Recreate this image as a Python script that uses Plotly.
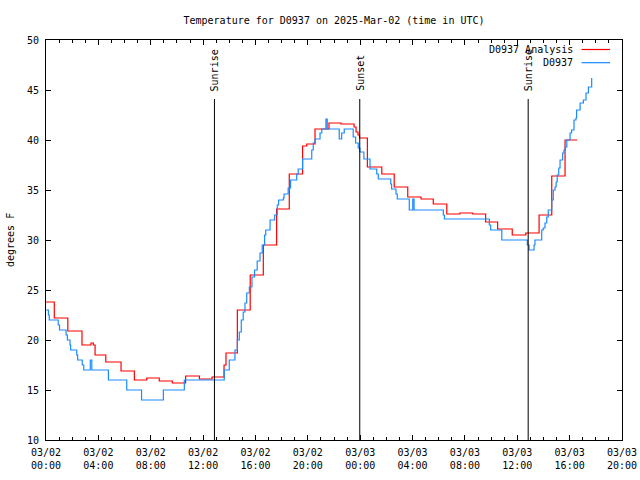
import plotly.graph_objects as go

# ---------------- data ----------------
analysis_times = [
    "2025-03-02 00:00", "2025-03-02 00:38", "2025-03-02 01:40", "2025-03-02 02:45",
    "2025-03-02 03:26", "2025-03-02 03:37", "2025-03-02 03:45", "2025-03-02 04:34",
    "2025-03-02 05:44", "2025-03-02 06:45", "2025-03-02 07:42", "2025-03-02 08:39",
    "2025-03-02 09:39", "2025-03-02 10:40", "2025-03-02 11:43", "2025-03-02 12:41",
    "2025-03-02 13:36", "2025-03-02 13:45", "2025-03-02 14:37", "2025-03-02 15:36",
    "2025-03-02 16:36", "2025-03-02 17:37", "2025-03-02 18:35", "2025-03-02 19:36",
    "2025-03-02 19:55", "2025-03-02 20:33", "2025-03-02 21:37", "2025-03-02 22:32",
    "2025-03-02 23:32", "2025-03-02 23:41", "2025-03-02 23:50", "2025-03-02 23:57",
    "2025-03-03 00:33", "2025-03-03 01:39", "2025-03-03 02:36", "2025-03-03 03:38",
    "2025-03-03 04:39", "2025-03-03 05:35", "2025-03-03 06:37", "2025-03-03 07:37",
    "2025-03-03 08:36", "2025-03-03 09:35", "2025-03-03 10:30", "2025-03-03 11:37",
    "2025-03-03 12:39", "2025-03-03 13:40", "2025-03-03 14:38", "2025-03-03 15:39",
    "2025-03-03 16:35",
]
analysis_temps = [
    23.8, 22.2, 20.9, 19.5,
    19.7, 19.5, 18.5, 17.8,
    16.9, 16.0, 16.2, 15.9,
    15.7, 16.4, 16.1, 16.3,
    17.5, 18.7, 23.0, 26.5,
    29.5, 33.1, 36.6, 39.4,
    39.6, 41.1, 41.7, 41.6,
    41.3, 40.8, 40.5, 40.2,
    37.3, 36.6, 35.3, 34.3,
    34.1, 33.6, 32.6, 32.7,
    32.6, 31.8, 31.1, 30.5,
    30.7, 32.5, 36.4, 40.0,
    40.0,
]

obs_times = [
    "2025-03-02 00:00", "2025-03-02 00:11", "2025-03-02 00:15", "2025-03-02 00:56",
    "2025-03-02 01:02", "2025-03-02 01:32", "2025-03-02 01:38", "2025-03-02 01:50",
    "2025-03-02 01:53", "2025-03-02 02:21", "2025-03-02 02:25", "2025-03-02 02:46",
    "2025-03-02 02:53", "2025-03-02 03:23", "2025-03-02 03:30", "2025-03-02 04:46",
    "2025-03-02 06:10", "2025-03-02 07:18", "2025-03-02 08:58", "2025-03-02 10:34",
    "2025-03-02 13:37", "2025-03-02 14:00", "2025-03-02 14:26", "2025-03-02 14:37",
    "2025-03-02 14:46", "2025-03-02 14:55", "2025-03-02 15:04", "2025-03-02 15:12",
    "2025-03-02 15:20", "2025-03-02 15:32", "2025-03-02 15:44", "2025-03-02 15:56",
    "2025-03-02 16:08", "2025-03-02 16:21", "2025-03-02 16:31", "2025-03-02 16:42",
    "2025-03-02 16:47", "2025-03-02 17:07", "2025-03-02 17:28", "2025-03-02 17:40",
    "2025-03-02 17:46", "2025-03-02 18:08", "2025-03-02 18:11", "2025-03-02 18:30",
    "2025-03-02 18:41", "2025-03-02 19:09", "2025-03-02 19:16", "2025-03-02 19:36",
    "2025-03-02 20:18", "2025-03-02 20:25", "2025-03-02 20:33", "2025-03-02 20:56",
    "2025-03-02 21:04", "2025-03-02 21:23", "2025-03-02 21:29", "2025-03-02 22:24",
    "2025-03-02 22:35", "2025-03-02 22:47", "2025-03-02 23:28", "2025-03-02 23:39",
    "2025-03-02 23:51", "2025-03-02 23:59", "2025-03-03 00:17", "2025-03-03 00:45",
    "2025-03-03 01:16", "2025-03-03 01:23", "2025-03-03 02:20", "2025-03-03 02:24",
    "2025-03-03 02:44", "2025-03-03 02:50", "2025-03-03 03:45", "2025-03-03 04:01",
    "2025-03-03 04:07", "2025-03-03 06:21", "2025-03-03 06:26", "2025-03-03 09:52",
    "2025-03-03 09:58", "2025-03-03 10:49", "2025-03-03 12:46", "2025-03-03 12:54",
    "2025-03-03 13:17", "2025-03-03 13:21", "2025-03-03 13:52", "2025-03-03 13:59",
    "2025-03-03 14:07", "2025-03-03 14:15", "2025-03-03 14:22", "2025-03-03 14:38",
    "2025-03-03 14:45", "2025-03-03 14:53", "2025-03-03 14:58", "2025-03-03 15:03",
    "2025-03-03 15:10", "2025-03-03 15:16", "2025-03-03 15:28", "2025-03-03 15:34",
    "2025-03-03 15:40", "2025-03-03 15:47", "2025-03-03 16:02", "2025-03-03 16:09",
    "2025-03-03 16:20", "2025-03-03 16:29", "2025-03-03 16:32", "2025-03-03 16:48",
    "2025-03-03 17:03", "2025-03-03 17:15", "2025-03-03 17:26", "2025-03-03 17:41",
]
obs_temps = [
    23.0, 22.5, 22.0, 21.5,
    21.0, 20.5, 20.0, 19.5,
    19.0, 18.5, 18.0, 17.5,
    17.0, 18.0, 17.0, 16.0,
    15.0, 14.0, 15.0, 16.0,
    17.0, 18.0, 19.0, 20.0,
    20.8, 22.0, 22.8, 23.7,
    24.7, 25.3, 26.3, 27.0,
    27.9, 28.7, 29.5, 30.5,
    31.0, 32.0, 32.5, 33.5,
    34.0, 34.2, 34.6, 35.2,
    36.0, 36.6, 37.1, 38.1,
    39.0, 39.7, 40.1, 40.7,
    41.1, 42.1, 41.1, 40.1,
    40.7, 41.1, 40.3, 39.7,
    39.2, 38.8, 38.1, 37.1,
    36.6, 36.1, 35.6, 35.1,
    34.6, 34.1, 33.0, 34.1,
    33.0, 32.5, 32.1, 31.5,
    31.0, 30.0, 29.5, 29.0,
    29.5, 30.0, 31.0, 31.2,
    31.7, 32.3, 33.0, 34.0,
    35.0, 35.3, 35.8, 36.5,
    37.2, 38.0, 38.7, 39.0,
    39.3, 40.0, 40.7, 41.0,
    42.0, 42.2, 43.0, 43.7,
    44.0, 44.7, 45.3, 46.2,
]

sun_labels = ["Sunrise", "Sunset", "Sunrise"]
sun_times = ["2025-03-02 12:52", "2025-03-02 23:58", "2025-03-03 12:50"]

tick_vals = ["2025-03-02 00:00", "2025-03-02 04:00", "2025-03-02 08:00",
             "2025-03-02 12:00", "2025-03-02 16:00", "2025-03-02 20:00",
             "2025-03-03 00:00", "2025-03-03 04:00", "2025-03-03 08:00",
             "2025-03-03 12:00", "2025-03-03 16:00", "2025-03-03 20:00"]
tick_text = ["03/02<br>00:00", "03/02<br>04:00", "03/02<br>08:00",
             "03/02<br>12:00", "03/02<br>16:00", "03/02<br>20:00",
             "03/03<br>00:00", "03/03<br>04:00", "03/03<br>08:00",
             "03/03<br>12:00", "03/03<br>16:00", "03/03<br>20:00"]

series_names = ["D0937 Analysis", "D0937"]
series_colors = ["#ff0000", "#1a8cff"]

FONT = "DejaVu Sans Mono"

W, H = 640, 480
L, R, T, B = 46, 18, 40, 40
PW, PH = W - L - R, H - T - B


def px_x(px):  # page pixel -> paper x
    return (px - L) / PW


def px_y(py):  # page pixel -> paper y
    return 1 - (py - T) / PH


# ---------------- figure ----------------
fig = go.Figure()
fig.add_trace(go.Scatter(x=analysis_times, y=analysis_temps, mode="lines",
                         line=dict(color=series_colors[0], width=1.2, shape="hv"),
                         name=series_names[0], showlegend=False))
fig.add_trace(go.Scatter(x=obs_times, y=obs_temps, mode="lines",
                         line=dict(color=series_colors[1], width=1.2, shape="hv"),
                         name=series_names[1], showlegend=False))

for lab, t in zip(sun_labels, sun_times):
    fig.add_shape(type="line", xref="x", yref="y", x0=t, x1=t, y0=10, y1=44.1,
                  line=dict(color="black", width=1))
    fig.add_annotation(x=t, xref="x", y=px_y(93), yref="paper", text=lab,
                       textangle=-90, showarrow=False, xanchor="center",
                       yanchor="bottom", font=dict(family=FONT, size=10, color="black"))

# gnuplot-style legend (text right, sample line at right)
leg_y = [px_y(49.5), px_y(62.7)]
for name, col, yy in zip(series_names, series_colors, leg_y):
    fig.add_annotation(x=px_x(575), xref="paper", y=yy, yref="paper", text=name,
                       showarrow=False, xanchor="right", yanchor="middle",
                       font=dict(family=FONT, size=10, color="black"))
    fig.add_shape(type="line", xref="paper", yref="paper", x0=px_x(581.5), x1=px_x(610),
                  y0=yy, y1=yy, line=dict(color=col, width=1.2))

fig.add_annotation(x=px_x(10), xref="paper", y=px_y(240), yref="paper", text="degrees F",
                   textangle=-90, showarrow=False, xanchor="center", yanchor="middle",
                   font=dict(family=FONT, size=10, color="black"))

fig.update_layout(
    width=W, height=H,
    margin=dict(l=L, r=R, t=T, b=B, pad=0),
    paper_bgcolor="white", plot_bgcolor="white",
    font=dict(family=FONT, size=10, color="black"),
    title=dict(text="Temperature for D0937 on 2025-Mar-02 (time in UTC)",
               x=0.5, xref="paper", xanchor="center", y=1 - 20 / H, yanchor="middle",
               font=dict(family=FONT, size=10, color="black")),
    showlegend=False,
)
fig.update_xaxes(type="date", range=["2025-03-02 00:00", "2025-03-03 20:00"],
                 automargin=False,
                 tickvals=tick_vals, ticktext=tick_text,
                 ticks="inside", ticklen=5, tickcolor="black", tickwidth=1,
                 ticklabelstandoff=3,
                 showline=True, linecolor="black", linewidth=1, mirror="allticks",
                 showgrid=False, zeroline=False,
                 minor=dict(dtick=3600000, tick0="2025-03-02 00:00", ticks="inside",
                            ticklen=3, tickcolor="black", showgrid=False),
                 tickfont=dict(family=FONT, size=10, color="black"))
fig.update_yaxes(range=[10, 50], dtick=5, tick0=10,
                 automargin=False,
                 ticks="inside", ticklen=5, tickcolor="black", tickwidth=1,
                 ticklabelstandoff=4,
                 showline=True, linecolor="black", linewidth=1, mirror="allticks",
                 showgrid=False, zeroline=False,
                 tickfont=dict(family=FONT, size=10, color="black"))

page_js = """
document.body.style.margin='0';
document.body.style.overflow='hidden';
document.documentElement.style.overflow='hidden';
"""

fig.write_html("out.html", config={"displayModeBar": False}, post_script=page_js)
